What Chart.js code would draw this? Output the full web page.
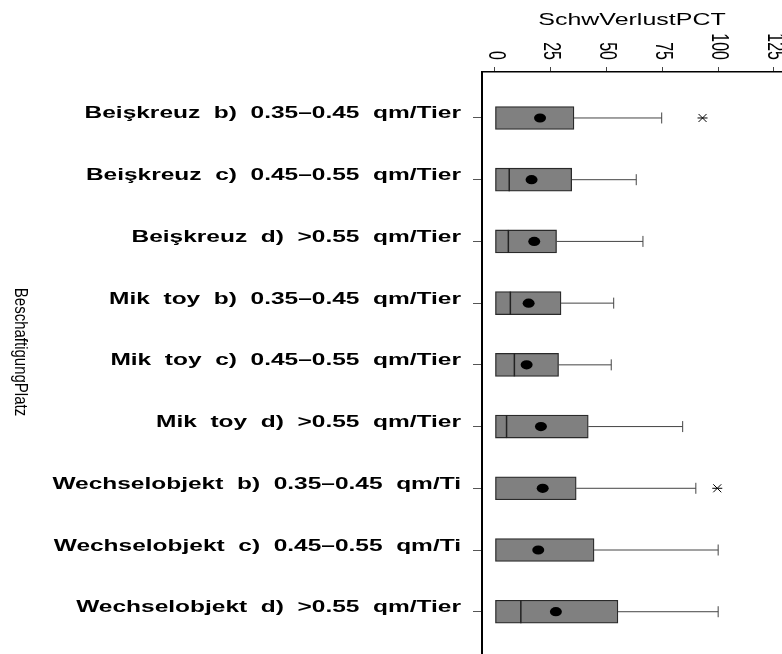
<!DOCTYPE html>
<html>
<head>
<meta charset="utf-8">
<script src="https://cdn.jsdelivr.net/npm/chart.js@4"></script>
<style>
  html, body { margin: 0; padding: 0; background: #fff; overflow: hidden; }
  canvas { display: block; }
</style>
</head>
<body>
<canvas id="boxChart" width="782" height="654"></canvas>
<script>
// ===== SchwVerlustPCT box plot =====

const CATEGORIES = [
  'Beişkreuz  b)  0.35–0.45  qm/Tier',
  'Beişkreuz  c)  0.45–0.55  qm/Tier',
  'Beişkreuz  d)  >0.55  qm/Tier',
  'Mik  toy  b)  0.35–0.45  qm/Tier',
  'Mik  toy  c)  0.45–0.55  qm/Tier',
  'Mik  toy  d)  >0.55  qm/Tier',
  'Wechselobjekt  b)  0.35–0.45  qm/Ti',
  'Wechselobjekt  c)  0.45–0.55  qm/Ti',
  'Wechselobjekt  d)  >0.55  qm/Tier'
];

const Q1       = [0, 0, 0, 0, 0, 0, 0, 0, 0];
const MEDIAN   = [0, 6.4, 6.0, 6.9, 8.7, 5.2, 0, 0, 11.6];
const Q3       = [35.4, 34.4, 27.6, 29.6, 28.5, 41.8, 36.4, 44.4, 55.1];
const MEAN     = [20.2, 16.4, 17.6, 15.1, 14.2, 20.6, 21.4, 19.4, 27.3];
const WHISKER  = [74.7, 63.3, 66.3, 53.2, 52.1, 84.1, 90, 100, 100];
const OUTLIERS = [[93], [], [], [], [], [], [99.6], [], []];

const X_TICKS = [0, 25, 50, 75, 100, 125];
const X_TITLE = 'SchwVerlustPCT';
const Y_TITLE = 'BeschaftigungPlatz';

const STRETCH = 1.44;

const boxExtras = {
  id: 'boxExtras',
  afterDatasetsDraw(chart) {
    const { ctx, scales: { x, y } } = chart;
    ctx.save();
    CATEGORIES.forEach((c, i) => {
      const py = y.getPixelForValue(i);
      // whisker
      ctx.strokeStyle = '#444';
      ctx.lineWidth = 1;
      ctx.beginPath();
      ctx.moveTo(x.getPixelForValue(Q3[i]), py);
      ctx.lineTo(x.getPixelForValue(WHISKER[i]), py);
      ctx.moveTo(x.getPixelForValue(WHISKER[i]), py - 5.5);
      ctx.lineTo(x.getPixelForValue(WHISKER[i]), py + 5.5);
      ctx.stroke();
      // median
      if (MEDIAN[i] > Q1[i]) {
        ctx.strokeStyle = '#222';
        ctx.lineWidth = 1.5;
        ctx.beginPath();
        ctx.moveTo(x.getPixelForValue(MEDIAN[i]), py - 11.5);
        ctx.lineTo(x.getPixelForValue(MEDIAN[i]), py + 11.5);
        ctx.stroke();
      }
      // mean
      ctx.fillStyle = '#000';
      ctx.beginPath();
      ctx.ellipse(x.getPixelForValue(MEAN[i]), py, 6, 4.6, 0, 0, Math.PI * 2);
      ctx.fill();
      // outliers
      ctx.strokeStyle = '#000';
      ctx.lineWidth = 1;
      OUTLIERS[i].forEach(v => {
        const px = x.getPixelForValue(v);
        ctx.beginPath();
        ctx.moveTo(px - 4, py - 4); ctx.lineTo(px + 4, py + 4);
        ctx.moveTo(px - 4, py + 4); ctx.lineTo(px + 4, py - 4);
        ctx.moveTo(px - 5, py); ctx.lineTo(px + 5, py);
        ctx.stroke();
      });
    });
    ctx.restore();
  },
  afterDraw(chart) {
    const { ctx, scales: { x, y } } = chart;
    ctx.save();
    ctx.fillStyle = '#000';

    // category labels
    ctx.font = 'bold 17px "Liberation Sans", Arial, sans-serif';
    ctx.textAlign = 'right';
    ctx.textBaseline = 'alphabetic';
    CATEGORIES.forEach((c, i) => {
      const py = y.getPixelForValue(i);
      ctx.save();
      ctx.translate(461, py + 0.5);
      ctx.scale(STRETCH, 1);
      ctx.fillText(c, 0, 0);
      ctx.restore();
    });

    // x tick labels, rotated clockwise
    ctx.font = '16px "Liberation Sans", Arial, sans-serif';
    ctx.textAlign = 'right';
    ctx.textBaseline = 'middle';
    X_TICKS.forEach(v => {
      ctx.save();
      ctx.translate(x.getPixelForValue(v), 60);
      ctx.scale(1.45, 1);
      ctx.rotate(Math.PI / 2);
      ctx.fillText(String(v), 0, 0);
      ctx.restore();
    });

    // axis title
    ctx.font = '17px "Liberation Sans", Arial, sans-serif';
    ctx.textAlign = 'center';
    ctx.textBaseline = 'alphabetic';
    ctx.save();
    ctx.translate((chart.chartArea.left + chart.chartArea.right) / 2, 25);
    ctx.scale(1.47, 1);
    ctx.fillText(X_TITLE, 0, 0);
    ctx.restore();

    // y title, rotated clockwise
    ctx.font = '15px "Liberation Sans", Arial, sans-serif';
    ctx.textBaseline = 'middle';
    ctx.save();
    ctx.translate(20, 352);
    ctx.rotate(Math.PI / 2);
    ctx.scale(1, 1.25);
    ctx.fillText(Y_TITLE, 0, 0);
    ctx.restore();

    ctx.restore();
  }
};

new Chart(document.getElementById('boxChart').getContext('2d'), {
  type: 'bar',
  data: {
    datasets: [{
      data: CATEGORIES.map((c, i) => ({ x: [Q1[i], Q3[i]], y: i })),
      backgroundColor: '#808080',
      borderColor: '#2a2a2a',
      borderWidth: 1.3,
      borderSkipped: false,
      barThickness: 23
    }]
  },
  options: {
    indexAxis: 'y',
    responsive: false,
    animation: false,
    layout: { padding: 0 },
    plugins: {
      legend: { display: false },
      tooltip: { enabled: false }
    },
    scales: {
      x: {
        type: 'linear',
        position: 'top',
        offset: false,
        min: -5.8,
        max: 128.6,
        afterBuildTicks: (scale) => { scale.ticks = X_TICKS.map(v => ({ value: v })); },
        afterFit: (scale) => { scale.height = 72; },
        ticks: { display: false },
        grid: { offset: false, drawOnChartArea: false, tickLength: 5, color: '#444', lineWidth: 1 },
        border: { color: '#000', width: 1.5 }
      },
      y: {
        type: 'linear',
        reverse: true,
        offset: false,
        min: -0.745,
        max: 8.685,
        afterBuildTicks: (scale) => { scale.ticks = CATEGORIES.map((c, i) => ({ value: i })); },
        afterFit: (scale) => { scale.width = 482; },
        ticks: { display: false },
        grid: { offset: false, drawOnChartArea: false, tickLength: 9, color: '#555', lineWidth: 1 },
        border: { color: '#000', width: 2 }
      }
    }
  },
  plugins: [boxExtras]
});
</script>
</body>
</html>
